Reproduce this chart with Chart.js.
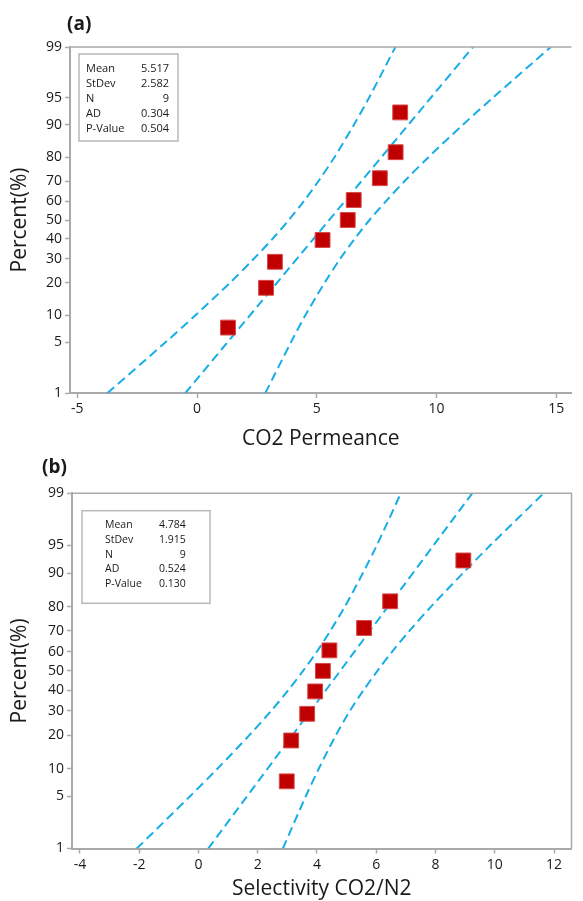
<!DOCTYPE html>
<html lang="en">
<head>
  <meta charset="UTF-8" />
  <title>Normal probability plots</title>
  <script src="https://cdn.jsdelivr.net/npm/chart.js"></script>
  <style>
    body {
      margin: 0;
      background: #fff;
      overflow: hidden;
      font-family: 'Open Sans', sans-serif;
    }
    .panel {
      position: absolute;
      left: 0;
    }
    #panelA { top: 0; }
    #panelB { top: 450px; }
  </style>
</head>
<body>
  <canvas id="chartA" class="panel" width="583" height="450" style="top:0"></canvas>
  <canvas id="chartB" class="panel" width="583" height="451" style="top:450px"></canvas>

  <script>
    // Percent levels used for the y ticks and for the confidence band points
    const pctLevels = [1, 5, 10, 20, 30, 40, 50, 60, 70, 80, 90, 95, 99];
    // Plotting positions of the 9 observations (%)
    const plotPct = [7.4, 18.1, 28.7, 39.4, 50, 60.6, 71.3, 81.9, 92.6];

    // (a) CO2 Permeance
    const permeance = [1.29, 2.88, 3.25, 5.24, 6.29, 6.54, 7.63, 8.29, 8.48];
    const fitA = [-0.49, 11.52];        // fitted line at 1% and 99%
    const lowA = [-3.74, -1.32, -0.07, 1.38, 2.36, 3.15, 3.83, 4.46, 5.07, 5.73, 6.55, 7.18, 8.28];
    const highA = [2.85, 3.92, 4.52, 5.33, 5.97, 6.58, 7.20, 7.89, 8.67, 9.65, 11.10, 12.35, 14.77];
    const xTicksA = [-5, 0, 5, 10, 15];
    const statsA = ['5.517', '2.582', '9', '0.304', '0.504'];

    // (b) Selectivity CO2/N2
    const selectivity = [2.98, 3.13, 3.67, 3.94, 4.20, 4.42, 5.59, 6.47, 8.94];
    const fitB = [0.33, 9.24];
    const lowB = [-2.08, -0.29, 0.64, 1.72, 2.45, 3.03, 3.53, 4.00, 4.45, 4.94, 5.55, 6.02, 6.83];
    const highB = [2.85, 3.62, 4.06, 4.64, 5.11, 5.57, 6.04, 6.54, 7.12, 7.85, 8.93, 9.85, 11.65];
    const xTicksB = [-4, -2, 0, 2, 4, 6, 8, 10, 12];
    const statsB = ['4.784', '1.915', '9', '0.524', '0.130'];

    const statLabels = ['Mean', 'StDev', 'N', 'AD', 'P-Value'];

    // inverse of the standard normal CDF (Acklam), used for the probability axis
    function normInv(p) {
      const a = [-39.69683028665376, 220.9460984245205, -275.9285104469687, 138.3577518672690, -30.66479806614716, 2.506628277459239];
      const b = [-54.47609879822406, 161.5858368580409, -155.6989798598866, 66.80131188771972, -13.28068155288572];
      const c = [-0.007784894002430293, -0.3223964580411365, -2.400758277161838, -2.549732539343734, 4.374664141464968, 2.938163982698783];
      const d = [0.007784695709041462, 0.3224671290700398, 2.445134137142996, 3.754408661907416];
      const pl = 0.02425;
      let q, r;
      if (p < pl) {
        q = Math.sqrt(-2 * Math.log(p));
        return (((((c[0]*q+c[1])*q+c[2])*q+c[3])*q+c[4])*q+c[5]) / ((((d[0]*q+d[1])*q+d[2])*q+d[3])*q+1);
      }
      if (p <= 1 - pl) {
        q = p - 0.5; r = q * q;
        return (((((a[0]*r+a[1])*r+a[2])*r+a[3])*r+a[4])*r+a[5])*q / (((((b[0]*r+b[1])*r+b[2])*r+b[3])*r+b[4])*r+1);
      }
      q = Math.sqrt(-2 * Math.log(1 - p));
      return -(((((c[0]*q+c[1])*q+c[2])*q+c[3])*q+c[4])*q+c[5]) / ((((d[0]*q+d[1])*q+d[2])*q+d[3])*q+1);
    }
    const z = pct => normInv(pct / 100);

    const BLUE = '#17ade6';
    const RED = '#c00000';
    const AXIS = '#a9a9a9';
    const TEXT = '#1a1a1a';

    // frame (top / right sides) + panel label + stats box
    const decorPlugin = {
      id: 'decor',
      afterDraw(chart, args, opts) {
        const ctx = chart.ctx;
        const ca = chart.chartArea;
        ctx.save();
        ctx.strokeStyle = AXIS;
        ctx.lineWidth = 1.5;
        ctx.beginPath();
        ctx.moveTo(ca.left, ca.top);
        ctx.lineTo(ca.right, ca.top);
        if (opts.rightSide) ctx.lineTo(ca.right, ca.bottom);
        ctx.stroke();

        ctx.fillStyle = TEXT;
        ctx.font = 'bold 19px "Open Sans"';
        ctx.textBaseline = 'middle';
        ctx.textAlign = 'left';
        ctx.fillText(opts.label, opts.labelX, opts.labelY);

        const b = opts.box;
        ctx.fillStyle = '#fff';
        ctx.fillRect(b.x, b.y, b.w, b.h);
        ctx.strokeStyle = '#b8b8b8';
        ctx.lineWidth = 1.5;
        ctx.strokeRect(b.x, b.y, b.w, b.h);
        ctx.fillStyle = TEXT;
        ctx.font = b.font + 'px "Open Sans"';
        statLabels.forEach((lab, i) => {
          const y = b.rowY + i * b.step;
          ctx.textAlign = 'left';
          ctx.fillText(lab, b.labelX, y);
          ctx.textAlign = 'right';
          ctx.fillText(opts.stats[i], b.valueX, y);
        });
        ctx.restore();
      }
    };

    function makeChart(id, o) {
      const pts = o.xs.map((x, i) => ({ x: x, y: z(plotPct[i]) }));
      const band = arr => arr.map((x, i) => ({ x: x, y: z(pctLevels[i]) }));
      const lineStyle = {
        showLine: true,
        borderColor: BLUE,
        borderWidth: 2,
        borderDash: [9, 5],
        pointRadius: 0,
        tension: 0.3,
        fill: false
      };
      return new Chart(document.getElementById(id), {
        type: 'scatter',
        data: {
          datasets: [
            {
              label: 'data',
              data: pts,
              pointStyle: 'rect',
              pointRadius: 10.5,
              backgroundColor: RED,
              borderColor: '#d84848',
              borderWidth: 1
            },
            Object.assign({ label: 'fit', data: [{ x: o.fit[0], y: z(1) }, { x: o.fit[1], y: z(99) }] }, lineStyle),
            Object.assign({ label: 'lower', data: band(o.low) }, lineStyle),
            Object.assign({ label: 'upper', data: band(o.high) }, lineStyle)
          ]
        },
        options: {
          responsive: false,
          animation: false,
          events: [],
          layout: { padding: o.padding },
          plugins: {
            legend: { display: false },
            tooltip: { enabled: false },
            decor: o.decor
          },
          scales: {
            x: {
              type: 'linear',
              min: o.xMin,
              max: o.xMax,
              afterBuildTicks: axis => { axis.ticks = o.xTicks.map(v => ({ value: v })); },
              afterFit: scale => { scale.height = o.xHeight; },
              grid: { drawOnChartArea: false, drawTicks: true, tickLength: 5, tickColor: AXIS, tickWidth: 1.5 },
              border: { color: AXIS, width: 2 },
              ticks: { color: TEXT, padding: 3, font: { family: 'Open Sans', size: 14 } },
              title: {
                display: true,
                text: o.xTitle,
                color: TEXT,
                font: { family: 'Open Sans', size: 21, lineHeight: 1 },
                padding: { top: 0, bottom: o.xTitlePad }
              }
            },
            y: {
              type: 'linear',
              min: z(1),
              max: z(99),
              afterBuildTicks: axis => { axis.ticks = pctLevels.map(p => ({ value: z(p) })); },
              afterFit: scale => { scale.width = o.yWidth; },
              grid: { drawOnChartArea: false, drawTicks: true, tickLength: 5, tickColor: AXIS, tickWidth: 1.5 },
              border: { color: AXIS, width: 2 },
              ticks: {
                color: TEXT,
                padding: 3,
                font: { family: 'Open Sans', size: 14 },
                callback: (v, i) => String(pctLevels[i])
              },
              title: {
                display: true,
                text: 'Percent(%)',
                color: TEXT,
                font: { family: 'Open Sans', size: 21, lineHeight: 1 },
                padding: { top: 9.5, bottom: 0 }
              }
            }
          }
        },
        plugins: [decorPlugin]
      });
    }

    makeChart('chartA', {
      xs: permeance, fit: fitA, low: lowA, high: highA,
      xTicks: xTicksA, xMin: -130 / 24.5, xMax: 383 / 24.5,
      xTitle: 'CO2 Permeance', xTitlePad: 0,
      yWidth: 70, xHeight: 57,
      padding: { top: 47, right: 0, bottom: 0, left: 0 },
      decor: {
        label: '(a)', labelX: 67, labelY: 24.5, rightSide: false, stats: statsA,
        box: { x: 79, y: 54, w: 99, h: 87, font: 11, labelX: 86, valueX: 169, rowY: 69, step: 15 }
      }
    });

    makeChart('chartB', {
      xs: selectivity, fit: fitB, low: lowB, high: highB,
      xTicks: xTicksB, xMin: -128 / 30, xMax: 377.7 / 30,
      xTitle: 'Selectivity CO2/N2', xTitlePad: 1.5,
      yWidth: 72, xHeight: 52.5,
      padding: { top: 43.3, right: 5.3, bottom: 0, left: 0 },
      decor: {
        label: '(b)', labelX: 42, labelY: 17.5, rightSide: true, stats: statsB,
        box: { x: 82, y: 60.7, w: 128, h: 92.6, font: 10.5, labelX: 105, valueX: 185.7, rowY: 75, step: 14.8 }
      }
    });
  </script>
</body>
</html>
